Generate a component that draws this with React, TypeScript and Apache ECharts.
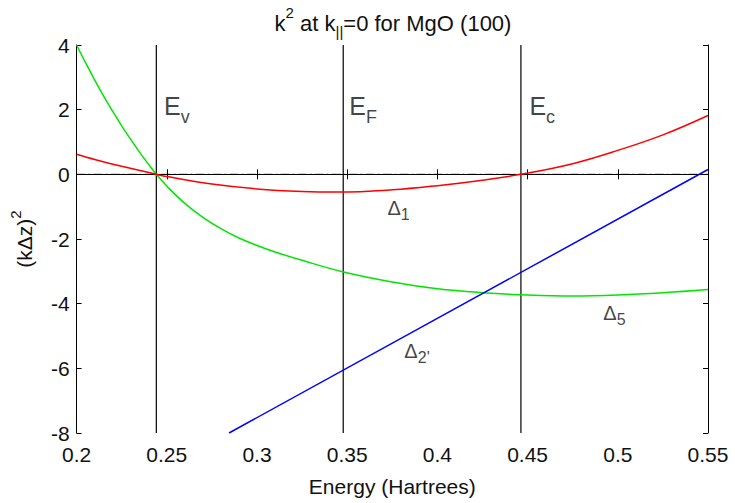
import React, { useEffect, useRef } from "react";
import * as echarts from "echarts";

const xTicks = { min: 0.2, max: 0.55, interval: 0.05 };
const yTicks = { min: -8, max: 4, interval: 2 };

const redDelta1: [number, number][] = [
  [0.2, 0.62], [0.21, 0.46], [0.225, 0.25], [0.2442, 0], [0.25, -0.07], [0.275, -0.3],
  [0.3, -0.45], [0.325, -0.53], [0.345, -0.55], [0.375, -0.48], [0.4, -0.35],
  [0.425, -0.18], [0.4463, 0], [0.475, 0.33], [0.5, 0.74], [0.525, 1.22], [0.55, 1.82],
];

const greenDelta5: [number, number][] = [
  [0.2, 4.0], [0.205, 3.45], [0.21, 2.92], [0.215, 2.42], [0.22, 1.95], [0.225, 1.5],
  [0.23, 1.08], [0.235, 0.68], [0.24, 0.3], [0.2442, 0], [0.25, -0.36], [0.26, -0.9],
  [0.27, -1.33], [0.28, -1.68], [0.29, -1.97], [0.3, -2.2], [0.31, -2.4], [0.325, -2.66],
  [0.348, -3.02], [0.375, -3.33], [0.4, -3.54], [0.425, -3.66], [0.45, -3.73],
  [0.475, -3.76], [0.5, -3.73], [0.525, -3.66], [0.55, -3.56],
];

const blueDelta2: [number, number][] = [
  [0.2845, -8], [0.55, 0.15],
];

const fermiLines = [
  { name: "Ev", x: 0.2442 },
  { name: "EF", x: 0.3478 },
  { name: "Ec", x: 0.4463 },
];

const zeroLine: [number, number][] = [[0.2, 0], [0.55, 0]];

const annotations: { text: string; x: number; y: number }[] = [
  { text: "{e|E}{s|v}", x: 0.2485, y: 1.5 },
  { text: "{e|E}{s|F}", x: 0.3512, y: 1.5 },
  { text: "{e|E}{s|c}", x: 0.451, y: 1.5 },
  { text: "{d|Δ}{ds|1}", x: 0.3723, y: -1.5 },
  { text: "{d|Δ}{ds|2'}", x: 0.3817, y: -5.92 },
  { text: "{d|Δ}{ds|5}", x: 0.492, y: -4.75 },
];

const FONT = "'Liberation Sans', Arial, Helvetica, sans-serif";
const INK = "#111";

export default function App() {
  const ref = useRef<HTMLDivElement>(null);
  useEffect(() => {
    if (!ref.current) return;
    const chart = echarts.init(ref.current, undefined, { renderer: "svg" });
    const axisLine = { show: true, lineStyle: { color: "#000", width: 1 } };
    const tick = { show: true, inside: true, length: 5, lineStyle: { color: "#000" } };
    chart.setOption({
      animation: false,
      backgroundColor: "#fff",
      textStyle: { fontFamily: FONT },
      title: {
        text: "{n|k}{sup|2}{n| at k}{sub|||}{n|=0 for MgO (100)}",
        left: 388,
        textAlign: "center",
        top: 0,
        textStyle: {
          fontWeight: "normal", fontSize: 22, color: INK, fontFamily: FONT,
          rich: {
            n: { fontSize: 22, color: INK, fontFamily: FONT, fontWeight: "normal", verticalAlign: "bottom", lineHeight: 34, padding: [0, 0, 5, 0] },
            sup: { fontSize: 15, color: INK, fontFamily: FONT, fontWeight: "normal", verticalAlign: "top", lineHeight: 34 },
            sub: { fontSize: 15, color: INK, fontFamily: FONT, fontWeight: "normal", verticalAlign: "bottom", lineHeight: 34 },
          },
        },
      },
      grid: { left: 76, right: 27, top: 45, bottom: 70, containLabel: false },
      xAxis: [
        {
          type: "value", ...xTicks, position: "bottom",
          axisLine, splitLine: { show: false }, axisTick: tick,
          axisLabel: { fontSize: 21, color: INK, margin: 11, fontFamily: FONT },
          name: "Energy (Hartrees)", nameLocation: "middle", nameGap: 43,
          nameTextStyle: { fontSize: 21, color: INK, fontFamily: FONT },
        },
        {
          type: "value", ...xTicks, position: "top",
          axisLine, splitLine: { show: false }, axisTick: tick,
          axisLabel: { show: false },
        },
      ],
      yAxis: [
        {
          type: "value", ...yTicks, position: "left",
          axisLine, splitLine: { show: false }, axisTick: tick,
          axisLabel: { fontSize: 21, color: INK, margin: 7, fontFamily: FONT },
          name: "{n|(kΔz)}{sup|2}", nameLocation: "middle", nameGap: 36, nameRotate: 90,
          nameTextStyle: {
            fontSize: 21, color: INK, fontFamily: FONT,
            rich: {
              n: { fontSize: 21, color: INK, fontFamily: FONT, verticalAlign: "bottom", lineHeight: 32, padding: [0, 0, 5, 0] },
              sup: { fontSize: 15, color: INK, fontFamily: FONT, verticalAlign: "top", lineHeight: 32 },
            },
          },
        },
        {
          type: "value", ...yTicks, position: "right",
          axisLine, splitLine: { show: false }, axisTick: tick,
          axisLabel: { show: false },
        },
      ],
      series: [
        ...fermiLines.map((l) => ({
          type: "line", name: l.name, data: [[l.x, yTicks.min], [l.x, yTicks.max]],
          showSymbol: false, symbol: "none", silent: true,
          lineStyle: { color: "#000", width: 1.2 },
        })),
        {
          type: "line", data: zeroLine, showSymbol: false, symbol: "none", silent: true,
          lineStyle: { color: "#000", width: 1, type: [9, 3, 2, 3] },
        },
        {
          type: "line", data: greenDelta5, smooth: 0.4, showSymbol: false, symbol: "none",
          lineStyle: { color: "#00e600", width: 1.5 }, clip: true,
        },
        {
          type: "line", data: redDelta1, smooth: 0.4, showSymbol: false, symbol: "none",
          lineStyle: { color: "#ff0000", width: 1.5 }, clip: true,
        },
        {
          type: "line", data: blueDelta2, showSymbol: false, symbol: "none",
          lineStyle: { color: "#0000ff", width: 1.5 }, clip: true,
        },
        {
          type: "scatter", symbolSize: 0, silent: true,
          data: annotations.map((a) => ({ value: [a.x, a.y], text: a.text })),
          label: {
            show: true, position: [0, 0], align: "left", verticalAlign: "bottom",
            formatter: (p: any) => p.data.text,
            rich: {
              e: { fontSize: 25, color: INK, fontFamily: FONT, verticalAlign: "bottom", lineHeight: 32, padding: [0, 0, 7, 0] },
              s: { fontSize: 18, color: INK, fontFamily: FONT, verticalAlign: "bottom", lineHeight: 32 },
              d: { fontSize: 20, color: INK, fontFamily: FONT, verticalAlign: "bottom", lineHeight: 28, padding: [0, 0, 5, 0] },
              ds: { fontSize: 16, color: INK, fontFamily: FONT, verticalAlign: "bottom", lineHeight: 28 },
            },
          },
        },
      ],
    });
    return () => chart.dispose();
  }, []);
  return <div ref={ref} style={{ position: "fixed", left: 0, top: 0, width: 735, height: 503 }} />;
}
